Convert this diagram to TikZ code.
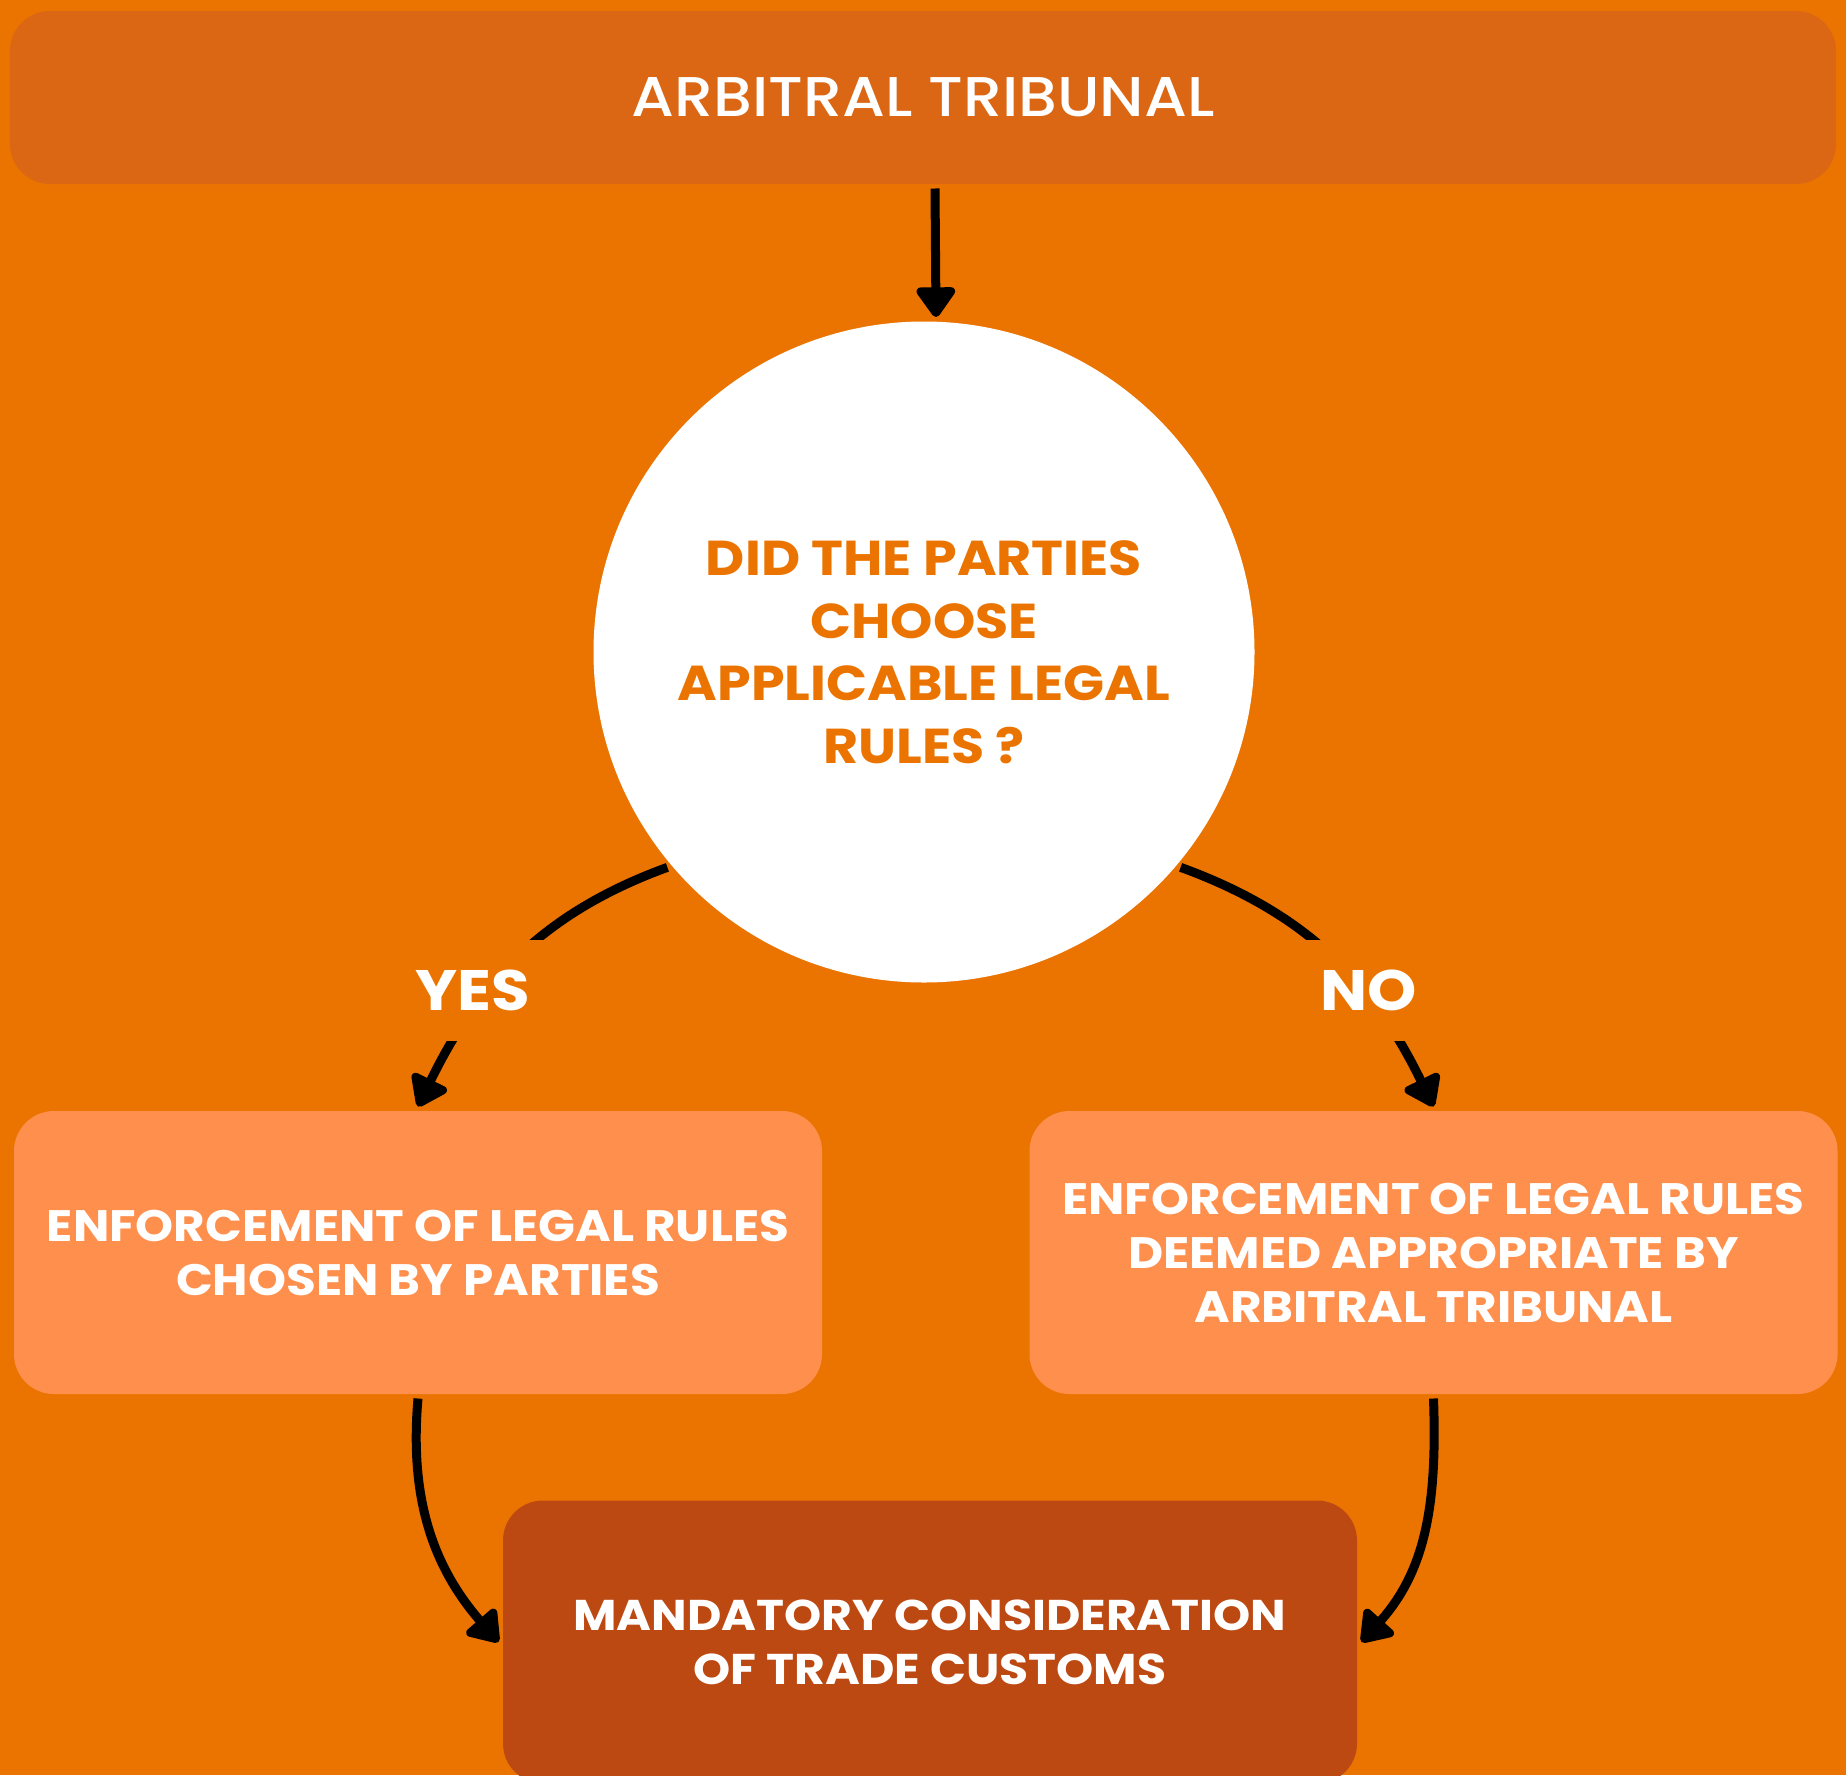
\documentclass[tikz,border=0pt]{standalone}
\usepackage{fontspec}
\setmainfont{Poppins}[FakeStretch=1.1]
\newfontfamily\titlefont{Poppins Medium}[FakeStretch=1.1]
\usetikzlibrary{arrows.meta}
\definecolor{bgorange}{HTML}{EB7400}
\definecolor{topbar}{HTML}{DB6714}
\definecolor{sidebox}{HTML}{FF8F4C}
\definecolor{custbox}{HTML}{BD4912}
\newcommand{\fs}[2]{\fontsize{#1}{#2}\selectfont}

\begin{document}
\begin{tikzpicture}[x=1pt,y=1pt,line width=9pt,
      every node/.style={inner sep=0pt,align=center,text=white},
      >={Triangle[round,length=33pt,width=44pt]},
      box/.style={rounded corners=40pt,minimum width=808pt,minimum height=283pt,
        font=\bfseries\fs{44}{54}},
      answer/.style={fill=bgorange,inner xsep=22pt,inner ysep=30pt,
        font=\bfseries\fs{57}{60}}]
      \fill[bgorange](0,0)rectangle(1846,-1775);
      \useasboundingbox(0,0)rectangle(1846,-1775);
      \node[box,fill=topbar,minimum width=1826pt,minimum height=173pt,
         font=\titlefont\fs{56}{60}](top)at(923,-97.5){ARBITRAL TRIBUNAL};
      \node[circle,fill=white,minimum size=661pt,text=bgorange,
         font=\bfseries\fs{49}{62.5}](q)at(924,-652)
         {DID THE PARTIES\\CHOOSE\\APPLICABLE LEGAL\\RULES ?};
      \node[box,fill=sidebox](yes)at(418,-1252.5)
         {ENFORCEMENT OF LEGAL RULES\\CHOSEN BY PARTIES};
      \node[box,fill=sidebox](no)at(1433.5,-1252.5)
         {ENFORCEMENT OF LEGAL RULES\\DEEMED APPROPRIATE BY\\ARBITRAL TRIBUNAL};
      \node[box,fill=custbox,minimum width=854pt,font=\bfseries\fs{43}{54}](cust)
         at(930,-1642){MANDATORY CONSIDERATION\\OF TRADE CUSTOMS};
      \draw[->]([xshift=12pt]top.south)--([xshift=12pt]q.north);
      \draw[->](q.220)to[out=200,in=64](yes.north);
      \draw[->](q.320)to[out=-20,in=116](no.north);
      \draw[->](yes.south)to[out=-95,in=131](cust.west);
      \draw[->](no.south)to[out=-88,in=48](cust.east);
      \node[answer](yeslbl)at(473,-990){YES};
      \node[answer](nolbl)at(1369,-990){NO};
    \end{tikzpicture}
\end{document}
